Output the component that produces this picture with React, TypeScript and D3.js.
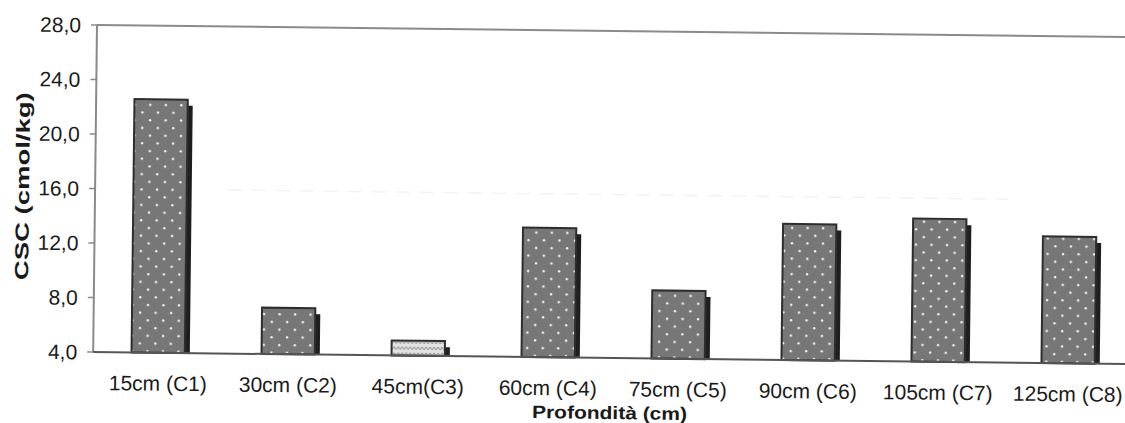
import React from "react";
import * as d3 from "d3";

const categories = [
  "15cm (C1)",
  "30cm (C2)",
  "45cm(C3)",
  "60cm (C4)",
  "75cm (C5)",
  "90cm (C6)",
  "105cm (C7)",
  "125cm (C8)",
];
const values = [22.6, 7.4, 5.1, 13.5, 9.0, 14.0, 14.5, 13.3];
const yTicks = [4, 8, 12, 16, 20, 24, 28];
const yTitle = "CSC (cmol/kg)";
const xTitle = "Profondità (cm)";

const W = 1125;
const H = 423;
const left = 97;
const top = 25;
const plotH = 327;
const plotW = 1040;

export default function App() {
  const x = d3
    .scaleBand<string>()
    .domain(categories)
    .range([left, left + plotW])
    .paddingInner(0.59)
    .paddingOuter(0.295);
  const y = d3.scaleLinear().domain([4, 28]).range([top + plotH, top]);
  const fmt = (v: number) => d3.format(".1f")(v).replace(".", ",");
  const bw = x.bandwidth();
  const font = "'Liberation Sans', Arial, Helvetica, sans-serif";

  return (
    <svg
      width={W}
      height={H}
      style={{ position: "absolute", left: 0, top: 0, background: "#fff" }}
    >
      <defs>
        <pattern
          id="dots"
          patternUnits="userSpaceOnUse"
          width={15.5}
          height={15.4}
        >
          <rect width={15.5} height={15.4} fill="#777777" />
          <circle cx={4} cy={4} r={1.2} fill="#f4f4f4" />
          <circle cx={11.75} cy={11.7} r={1.2} fill="#f4f4f4" />
        </pattern>
        <pattern id="zig" patternUnits="userSpaceOnUse" width={8} height={6}>
          <rect width={8} height={6} fill="#e2e2e2" />
          <path
            d="M0,4 L2,1 L4,4 L6,1 L8,4"
            fill="none"
            stroke="#8a8a8a"
            strokeWidth={1}
          />
        </pattern>
      </defs>
      <g transform={`rotate(0.67 ${left} ${top})`}>
        {/* faint scan line */}
        <line
          x1={230}
          x2={1010}
          y1={y(16)}
          y2={y(16)}
          stroke="#f3f3f3"
          strokeWidth={1.5}
          strokeDasharray="14 10"
        />
        {/* top border */}
        <line
          x1={left}
          x2={left + plotW}
          y1={top}
          y2={top}
          stroke="#8a8a8a"
          strokeWidth={2}
        />
        {/* y axis */}
        <line
          x1={left}
          x2={left}
          y1={top}
          y2={top + plotH}
          stroke="#8a8a8a"
          strokeWidth={2}
        />
        {yTicks.map((t) => (
          <g key={t}>
            <line
              x1={left - 6}
              x2={left}
              y1={y(t)}
              y2={y(t)}
              stroke="#8a8a8a"
              strokeWidth={1.5}
            />
            <text
              x={81}
              y={y(t) + 7.5}
              textAnchor="end"
              fontFamily={font}
              fontSize={21}
              fill="#1a1a1a"
            >
              {fmt(t)}
            </text>
          </g>
        ))}
        {/* bars */}
        {categories.map((c, i) => {
          const bx = x(c) as number;
          const by = y(values[i]);
          const bh = y(4) - by;
          return (
            <g key={c}>
              <rect
                x={bx + 5}
                y={by + 6}
                width={bw}
                height={Math.max(0, bh - 6)}
                fill="#1e1f1f"
              />
              <rect
                x={bx}
                y={by}
                width={bw}
                height={bh}
                fill={i === 2 ? "url(#zig)" : "url(#dots)"}
                stroke="#2e2e2e"
                strokeWidth={2}
              />
            </g>
          );
        })}
        {/* baseline */}
        <line
          x1={left}
          x2={left + plotW}
          y1={top + plotH}
          y2={top + plotH}
          stroke="#555"
          strokeWidth={2}
        />
        {categories.map((c) => (
          <text
            key={c}
            x={(x(c) as number) + bw / 2}
            y={390}
            textAnchor="middle"
            fontFamily={font}
            fontSize={21}
            fill="#1a1a1a"
          >
            {c}
          </text>
        ))}
        <text
          x={614}
          y={413}
          textAnchor="middle"
          fontFamily={font}
          fontSize={18}
          fontWeight="bold"
          fill="#1a1a1a"
          textLength={155}
          lengthAdjust="spacingAndGlyphs"
        >
          {xTitle}
        </text>
        <text
          transform={`translate(31,187) rotate(-90)`}
          textAnchor="middle"
          fontFamily={font}
          fontSize={19}
          fontWeight="bold"
          fill="#1a1a1a"
          textLength={188}
          lengthAdjust="spacingAndGlyphs"
        >
          {yTitle}
        </text>
      </g>
    </svg>
  );
}
